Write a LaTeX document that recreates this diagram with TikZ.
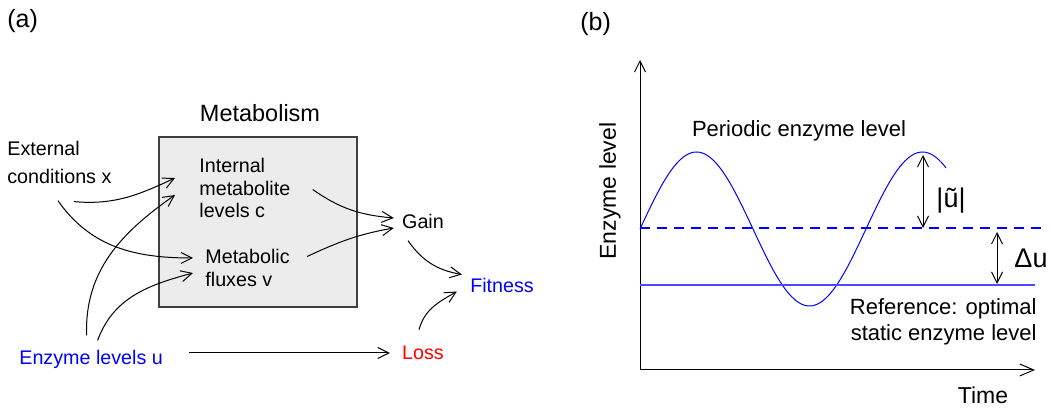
\documentclass[tikz,border=0pt]{standalone}
\usepackage{fontspec}
\setmainfont{Liberation Sans}
\usetikzlibrary{arrows.meta}

\begin{document}
\begin{tikzpicture}[x=0.5pt,y=-0.5pt,
    every node/.style={font=\fontsize{9.85}{11.25}\selectfont, inner sep=0pt}]
  \tikzstyle{txt} = [align=left, anchor=west]
  \tikzstyle{head} = [font=\fontsize{12.5}{14}\selectfont, anchor=west]
  \tikzstyle{big} = [font=\fontsize{11}{13}\selectfont]
  \tikzstyle{sym} = [font=\fontsize{13.5}{15}\selectfont]
  \tikzstyle{metabox} = [rectangle, draw=black!75, line width=0.75pt, fill=gray!15,
      minimum width=99pt, minimum height=85pt]
  \tikzstyle{arrow} = [-{Straight Barb[length=5.5pt,width=5.5pt]}, line width=0.5pt]
  \tikzstyle{twoway} = [{Straight Barb[length=5.5pt,width=5.5pt]}-{Straight Barb[length=5.5pt,width=5.5pt]},
      line width=0.5pt]
  \tikzstyle{axis} = [{Straight Barb[length=5.5pt,width=5.5pt]}-{Straight Barb[length=7pt,width=6pt]},
      line width=0.5pt]

  \useasboundingbox (0,0) rectangle (1051,410);

  % panel (a): pixel coordinates, y counted downwards
  \node (pa)    [head]     at (7,21)    {(a)};
  \node (metab) [metabox]  at (258,222) {};
  \node (title) [font=\fontsize{11.75}{13}\selectfont] at (260,113) {Metabolism};
  \node (ext)   [txt, font=\fontsize{9.85}{14}\selectfont] at (7,162) {External\\conditions x};
  \node (intl)  [txt]      at (199,188) {Internal\\metabolite\\levels c};
  \node (flux)  [txt]      at (205,268) {Metabolic\\fluxes v};
  \node (enz)   [txt, text=blue] at (19,359) {Enzyme levels u};
  \node (gain)             at (423,221) {Gain};
  \node (fit)   [text=blue] at (502,285) {Fitness};
  \node (loss)  [text=red] at (423,353) {Loss};

  \draw[arrow] ([shift={(14.5,18)}]ext.south) to[out=-5,in=205] ([shift={(-24,-10)}]intl.west);
  \draw[arrow] ([shift={(-1.5,17)}]ext.south) to[out=-55,in=180] ([shift={(-12,-10)}]flux.west);
  \draw[arrow] ([shift={(-4.5,-14)}]enz.north) to[out=92,in=215] ([shift={(-24,7)}]intl.west);
  \draw[arrow] ([shift={(6.5,-9)}]enz.north) to[out=70,in=195] ([shift={(-12,5)}]flux.west);
  \draw[arrow] ([shift={(22,1.5)}]intl.east) to[out=-35,in=175] ([shift={(-8,-3)}]gain.west);
  \draw[arrow] ([shift={(17,-11.5)}]flux.east) to[out=25,in=190] ([shift={(-8,7)}]gain.west);
  \draw[arrow] ([shift={(-15,12)}]gain.south) to[out=-55,in=170] ([shift={(-8,-10.5)}]fit.west);
  \draw[arrow] ([shift={(-4,-16)}]loss.north) to[out=75,in=210] ([shift={(-13,6.5)}]fit.west);
  \draw[arrow] ([shift={(26,-6)}]enz.east) -- ([shift={(-12,0)}]loss.west);

  % panel (b): the plot
  \node (pb)    [head]     at (580,24)  {(b)};
  \draw[axis] (640,60) -- (640,370) -- (1035,370);
  \draw[blue, line width=0.5pt] plot[domain=640:946, samples=120, smooth]
      (\x, {229-77*sin((\x-640)*1.593)});
  \draw[draw=blue, line width=0.6pt, dash pattern=on 5pt off 3.5pt] (640,228) -- (1042,228);
  \draw[draw=blue!70, line width=0.6pt] (640,285) -- (1035,285);
  \draw[twoway] (923,155) -- (923,228);
  \draw[twoway] (997,232) -- (997,284);

  \node (ylab)  [font=\fontsize{11.5}{13}\selectfont, rotate=90] at (610,191) {Enzyme level};
  \node (xlab)  [font=\fontsize{11.5}{13}\selectfont] at (983,395) {Time};
  \node (per)   [big]      at (799,131) {Periodic enzyme level};
  \node (amp)   [sym]      at (951,201) {|ũ|};
  \node (du)    [sym]      at (1031,258) {Δu};
  \node (ref)   [big, align=right, anchor=east] at (1037,322) {Reference: optimal\\static enzyme level};
\end{tikzpicture}
\end{document}
